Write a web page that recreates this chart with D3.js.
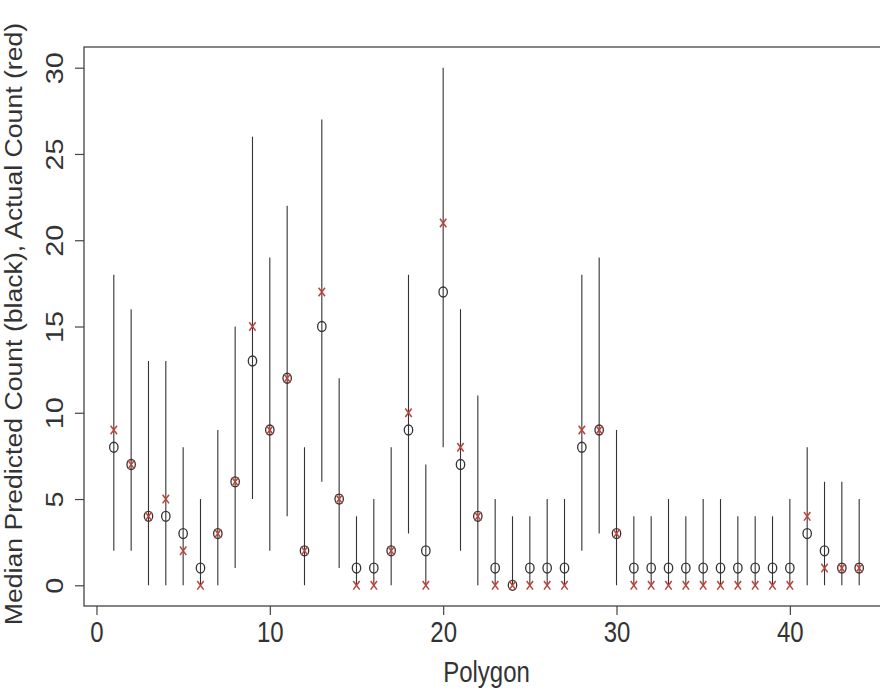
<!DOCTYPE html>
<html lang="en">
  <head>
    <meta charset="UTF-8" />
    <title>Median Predicted vs Actual Count</title>
    <script src="https://d3js.org/d3.v7.min.js"></script>
    <style>
      body { margin: 0; background: #fff; }
      text { font-family: "Liberation Sans", Arial, sans-serif; fill: #333; }
    </style>
  </head>
  <body>
    <svg width="880" height="690"></svg>

    <script>
      // polygon ids 1..44
      var polygons = d3.range(1, 45);
      // median predicted count (black circles)
      var median = [8, 7, 4, 4, 3, 1, 3, 6, 13, 9, 12, 2, 15, 5, 1, 1, 2, 9, 2, 17, 7, 4,
        1, 0, 1, 1, 1, 8, 9, 3, 1, 1, 1, 1, 1, 1, 1, 1, 1, 1, 3, 2, 1, 1];
      // actual count (red crosses)
      var actual = [9, 7, 4, 5, 2, 0, 3, 6, 15, 9, 12, 2, 17, 5, 0, 0, 2, 10, 0, 21, 8, 4,
        0, 0, 0, 0, 0, 9, 9, 3, 0, 0, 0, 0, 0, 0, 0, 0, 0, 0, 4, 1, 1, 1];
      // interval ends
      var lower = [2, 2, 0, 0, 0, 0, 0, 1, 5, 2, 4, 0, 6, 1, 0, 0, 0, 3, 0, 8, 2, 0,
        0, 0, 0, 0, 0, 2, 3, 0, 0, 0, 0, 0, 0, 0, 0, 0, 0, 0, 0, 0, 0, 0];
      var upper = [18, 16, 13, 13, 8, 5, 9, 15, 26, 19, 22, 8, 27, 12, 4, 5, 8, 18, 7, 30, 16, 11,
        5, 4, 4, 5, 5, 18, 19, 9, 4, 4, 5, 4, 5, 5, 4, 4, 4, 5, 8, 6, 6, 5];
      var xTicks = [0, 10, 20, 30, 40];
      var yTicks = [0, 5, 10, 15, 20, 25, 30];

      var svg = d3.select("svg");
      var pLeft = 84, pRight = 889, pTop = 47, pBottom = 606;
      var stretch = 1.2; // glyphs in the reference are taller than wide

      var x = d3.scaleLinear().domain([-0.72, 45.72]).range([pLeft, pRight]);
      var y = d3.scaleLinear().domain([-1.2, 31.2]).range([pBottom, pTop]);

      // plot box
      svg.append("rect")
        .attr("x", pLeft).attr("y", pTop)
        .attr("width", pRight - pLeft).attr("height", pBottom - pTop)
        .attr("fill", "none").attr("stroke", "#444").attr("stroke-width", 1.3);

      // x axis ticks + labels
      var xAxis = svg.append("g").attr("transform", "translate(0," + pBottom + ")")
        .call(d3.axisBottom(x).tickValues(xTicks).tickSize(9).tickPadding(0));
      xAxis.select(".domain").remove();
      xAxis.selectAll("line").attr("stroke", "#444").attr("stroke-width", 1.2);
      xAxis.selectAll("text")
        .attr("font-size", 24).attr("dy", null).attr("y", 0)
        .attr("fill", "#333")
        .attr("transform", "translate(0,36) scale(1," + stretch + ")");

      // y axis ticks + labels
      var yAxis = svg.append("g").attr("transform", "translate(" + pLeft + ",0)")
        .call(d3.axisLeft(y).tickValues(yTicks).tickSize(9));
      yAxis.select(".domain").remove();
      yAxis.selectAll("line").attr("stroke", "#444").attr("stroke-width", 1.2);
      yAxis.selectAll("text").remove();
      yAxis.selectAll(".tick").append("text")
        .attr("font-size", 24).attr("fill", "#333")
        .attr("text-anchor", "middle")
        .attr("transform", "translate(-21,0) scale(1," + stretch + ") rotate(-90)")
        .text(function (d) { return d; });

      // axis titles
      svg.append("text")
        .attr("text-anchor", "middle").attr("font-size", 24)
        .attr("transform", "translate(" + (pLeft + pRight) / 2 + ",682) scale(1," + stretch + ")")
        .text("Polygon");
      svg.append("text")
        .attr("text-anchor", "middle").attr("font-size", 24)
        .attr("transform", "translate(22,324) scale(1,1.11) rotate(-90)")
        .text("Median Predicted Count (black), Actual Count (red)");

      var plot = svg.append("g");

      // intervals
      plot.selectAll("line.bar")
        .data(polygons)
        .enter()
        .append("line")
        .attr("class", "bar")
        .attr("x1", function (d) { return x(d); })
        .attr("x2", function (d) { return x(d); })
        .attr("y1", function (d, i) { return y(lower[i]); })
        .attr("y2", function (d, i) { return y(upper[i]); })
        .attr("stroke", "#333").attr("stroke-width", 1.1);

      // medians
      plot.selectAll("ellipse")
        .data(polygons)
        .enter()
        .append("ellipse")
        .attr("cx", function (d) { return x(d); })
        .attr("cy", function (d, i) { return y(median[i]); })
        .attr("rx", 4.2).attr("ry", 5)
        .attr("fill", "none").attr("stroke", "#333").attr("stroke-width", 1.3);

      // actual counts as crosses
      plot.selectAll("path.cross")
        .data(polygons)
        .enter()
        .append("path")
        .attr("class", "cross")
        .attr("d", function (d, i) {
          var cx = x(d), cy = y(actual[i]), w = 3.2, h = 4.3;
          return "M" + (cx - w) + "," + (cy - h) + "L" + (cx + w) + "," + (cy + h) +
            "M" + (cx - w) + "," + (cy + h) + "L" + (cx + w) + "," + (cy - h);
        })
        .attr("fill", "none").attr("stroke", "#b8453c").attr("stroke-width", 1.5);
    </script>
  </body>
</html>
